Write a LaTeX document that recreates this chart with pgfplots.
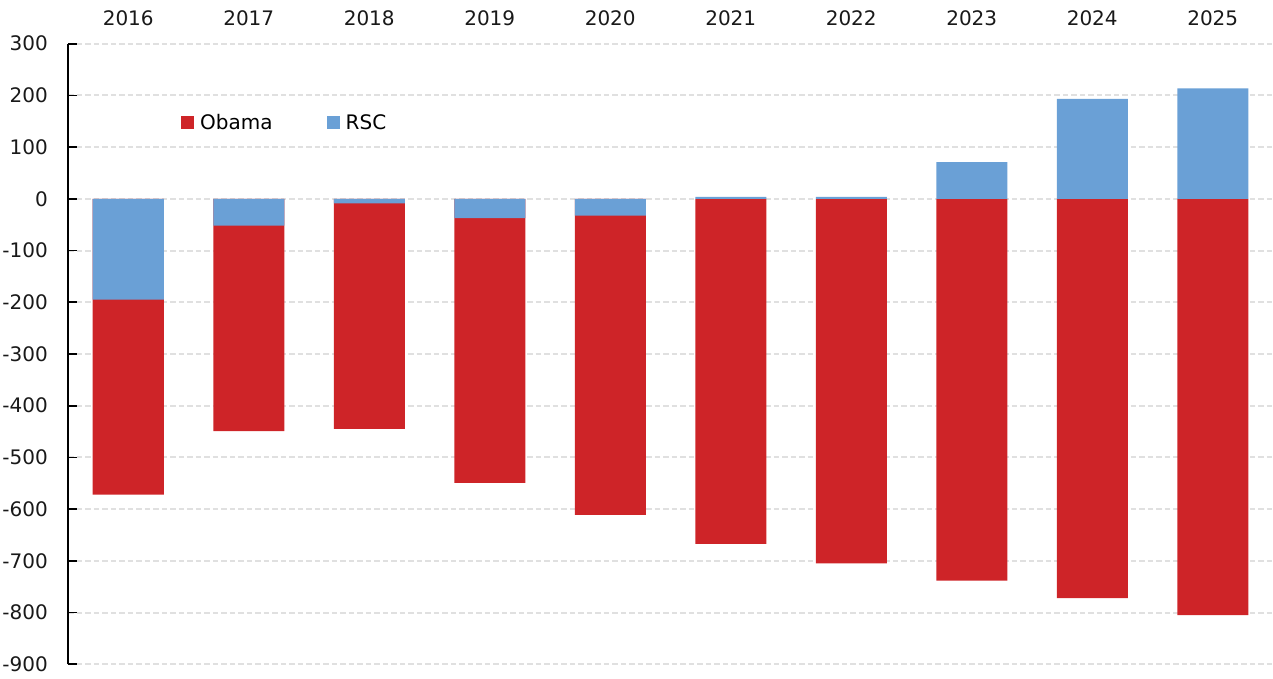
\documentclass[border=0pt]{standalone}
\usepackage{pgfplots}
\pgfplotsset{compat=1.18}
\usepackage{fontspec}
\setmainfont{DejaVu Sans}
\definecolor{obred}{RGB}{206,36,40}
\definecolor{rscblue}{RGB}{106,160,214}
\definecolor{gridgray}{RGB}{224,224,224}
\begin{document}
\begin{tikzpicture}
\begin{axis}[
  at={(0pt,0pt)}, anchor=south west,
  scale only axis,
  width=1205pt, height=620.6pt,
  xmin=-0.5, xmax=9.5,
  ymin=-900, ymax=300,
  axis x line*=top, axis y line*=left,
  axis line style={-, black, line width=2.2pt},
  x axis line style={draw=none},
  xtick={0,...,9},
  xticklabels={2016,2017,2018,2019,2020,2021,2022,2023,2024,2025},
  xticklabel pos=upper,
  xtick style={draw=none},
  xticklabel style={inner sep=0pt, anchor=south, yshift=9.2pt},
  ytick={-900,-800,-700,-600,-500,-400,-300,-200,-100,0,100,200,300},
  yticklabels={-900,-800,-700,-600,-500,-400,-300,-200,-100,0,100,200,300},
  yticklabel style={inner sep=0pt, anchor=east, xshift=-20pt},
  ytick style={draw=black, line width=1.8pt},
  tick align=inside,
  major tick length=9pt,
  ymajorgrids,
  major grid style={gridgray, line width=2pt, dash pattern=on 5.5pt off 3pt},
  tick label style={font=\fontsize{20}{24}\selectfont, text=black!90},
  ybar,
  legend style={draw=none, fill=none, at={(rel axis cs:0.0938,0.873)}, anchor=west,
    inner sep=0pt, font=\fontsize{20}{24}\selectfont,
    nodes={inner sep=0pt, anchor=west},
    /tikz/every even column/.append style={column sep=54pt}},
  legend columns=2,
  legend image code/.code={\fill[#1,draw=none] (0pt,-6.5pt) rectangle (13pt,6.5pt); \path (19pt,0pt);},
]
\addplot[fill=obred, draw=none, bar width=71pt, bar shift=0pt] coordinates {
(0,-572) (1,-449) (2,-445) (3,-549) (4,-611) (5,-667) (6,-705) (7,-738) (8,-772) (9,-805)};
\addlegendentry{Obama}
\addplot[fill=rscblue, draw=none, bar width=71pt, bar shift=0pt] coordinates {
(0,-195) (1,-52) (2,-9) (3,-37.5) (4,-32.5) (5,4) (6,4) (7,71) (8,193.5) (9,213.5)};
\addlegendentry{RSC}
\end{axis}
\pgfresetboundingbox
\path (-68pt,-14.7pt) rectangle (1205pt,664.3pt);
\end{tikzpicture}
\end{document}
